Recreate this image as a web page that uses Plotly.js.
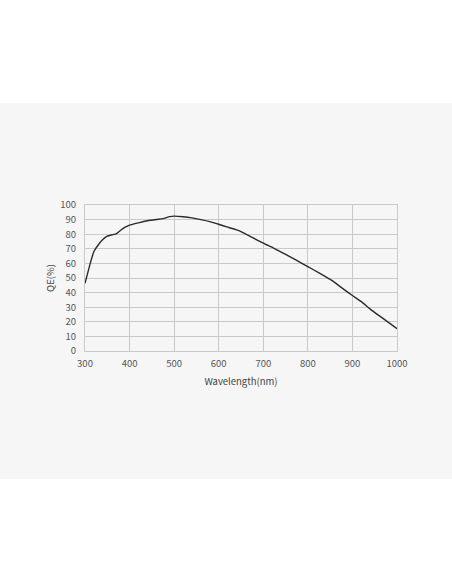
<!DOCTYPE html>
<html>
<head>
<meta charset="utf-8">
<script src="https://cdn.plot.ly/plotly-3.0.1.min.js"></script>
<style>html,body{margin:0;padding:0;background:#fff;}#chart{width:452px;height:584px;}</style>
</head>
<body>
<div id="chart"></div>
<script>
const wavelength = [300, 310, 320, 330, 340, 350, 360, 370, 380, 390, 400, 420, 440, 460, 475, 490, 500, 520, 540, 560, 580, 600, 620, 640, 650, 675, 700, 725, 750, 775, 800, 825, 850, 860, 880, 900, 920, 940, 960, 980, 1000];
const qe = [46.3, 58.0, 68.2, 72.8, 76.3, 78.6, 79.5, 80.2, 82.7, 84.8, 86.2, 87.8, 89.2, 90.1, 90.7, 92.0, 92.4, 92.0, 91.2, 90.0, 88.6, 86.8, 84.8, 83.0, 81.8, 77.8, 73.9, 70.2, 66.2, 62.0, 57.8, 53.5, 49.0, 47.0, 42.4, 38.0, 33.8, 28.7, 24.2, 19.8, 15.3];
const xTicks = [300, 400, 500, 600, 700, 800, 900, 1000];
const yTicks = [0, 10, 20, 30, 40, 50, 60, 70, 80, 90, 100];

const font = {family: '"Noto Sans CJK SC", "Noto Sans", sans-serif', size: 9.5, color: '#555'};
const titleFont = {family: '"Noto Sans CJK SC", "Noto Sans", sans-serif', size: 9.5, color: '#444'};

Plotly.newPlot('chart', [{
  x: wavelength, y: qe, type: 'scatter', mode: 'lines',
  line: {color: '#2b2b2b', width: 1.4, shape: 'spline', smoothing: 0.6},
  hoverinfo: 'skip', showlegend: false
}], {
  width: 452, height: 584,
  paper_bgcolor: '#ffffff', plot_bgcolor: '#f6f6f6',
  margin: {l: 85, r: 55, t: 205, b: 233, pad: 0},
  font: font,
  shapes: [{
    type: 'rect', xref: 'paper', yref: 'paper', layer: 'below',
    x0: -0.2725, x1: 1.18, y0: -0.877, y1: 1.699,
    fillcolor: '#f6f6f6', line: {width: 0}
  }],
  xaxis: {
    range: [300, 1000], tickvals: xTicks, ticktext: xTicks.map(String),
    showgrid: true, gridcolor: '#c9c9c9', gridwidth: 1,
    zeroline: false, showline: true, linecolor: '#c9c9c9', mirror: true,
    ticks: 'outside', ticklen: 4, tickcolor: 'rgba(0,0,0,0)',
    tickfont: font,
    title: {text: 'Wavelength(nm)', font: titleFont, standoff: 8}
  },
  yaxis: {
    range: [0, 100], tickvals: yTicks, ticktext: yTicks.map(String),
    showgrid: true, gridcolor: '#c9c9c9', gridwidth: 1,
    zeroline: false, showline: true, linecolor: '#c9c9c9', mirror: true,
    ticks: 'outside', ticklen: 6, tickcolor: 'rgba(0,0,0,0)',
    tickfont: font,
    title: {text: 'QE(%)', font: titleFont, standoff: 3}
  }
}, {staticPlot: true, displayModeBar: false});
</script>
</body>
</html>
